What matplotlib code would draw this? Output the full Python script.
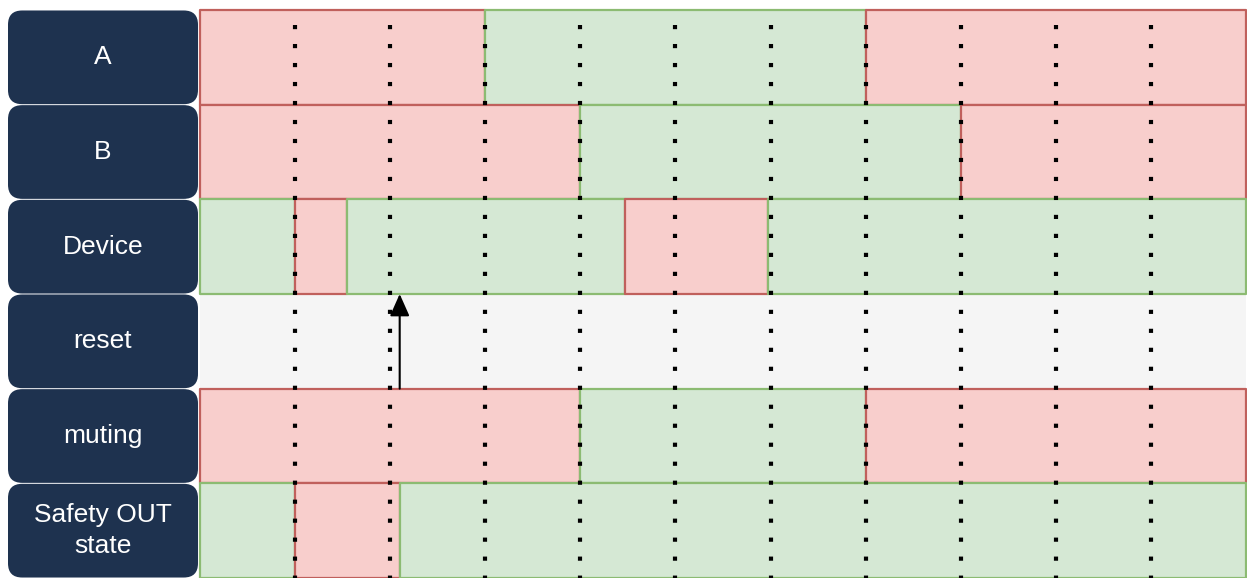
import matplotlib.pyplot as plt
from matplotlib.patches import FancyBboxPatch

# timing diagram data (time in grid steps, 0 = off/red, 1 = on/green)
signals = ['A', 'B', 'Device', 'reset', 'muting', 'Safety OUT\nstate']
t_end = 11
grid_ticks = [1, 2, 3, 4, 5, 6, 7, 8, 9, 10]

a_edges = [0, 3, 7, 11]
a_states = [0, 1, 0]
b_edges = [0, 4, 8, 11]
b_states = [0, 1, 0]
dev_edges = [0, 1, 1.55, 4.47, 5.97, 11]
dev_states = [1, 0, 1, 0, 1]
mut_edges = [0, 4, 7, 11]
mut_states = [0, 1, 0]
safe_edges = [0, 1, 2.1, 11]
safe_states = [1, 0, 1]
reset_pulse = 2.1

rows = {0: (a_edges, a_states), 1: (b_edges, b_states), 2: (dev_edges, dev_states),
        4: (mut_edges, mut_states), 5: (safe_edges, safe_states)}

fill = {0: '#f8cecc', 1: '#d5e8d4'}
edge = {0: '#c0605c', 1: '#8cbb72'}
navy = '#1e324f'

fig = plt.figure(figsize=(12.47, 5.78), dpi=100)
ax = fig.add_axes([0, 0, 1, 1])
ux = 1046 / 11
uy = 568 / 6
ax.set_xlim(-200 / ux, 1047 / ux)
ax.set_ylim(6.0, -10 / uy)
ax.axis('off')

# reset row background
ax.broken_barh([(0, t_end)], (3, 1), facecolors='#f5f5f5', edgecolors='none', zorder=1)

for r, (edges, states) in rows.items():
    spans = [(edges[i], edges[i + 1] - edges[i]) for i in range(len(states))]
    ax.broken_barh(spans, (r, 1), facecolors=[fill[s] for s in states],
                   edgecolors=[edge[s] for s in states], linewidth=1.6, zorder=2)

# dotted time grid
y0 = 15 / uy
for t in grid_ticks:
    ax.plot([t, t], [y0, 6.0], color='black', lw=3.0, solid_capstyle='butt',
            linestyle=(0, (1, 19 / 4.17 - 1)), dash_capstyle='butt', zorder=3)

# reset pulse arrow
ax.annotate('', xy=(reset_pulse, 3.0), xytext=(reset_pulse, 4.0),
            arrowprops=dict(arrowstyle='-|>,head_length=0.9,head_width=0.4',
                            color='black', lw=1.5, shrinkA=0, shrinkB=0,
                            mutation_scale=15), zorder=4)

# row labels
for i, name in enumerate(signals):
    box = FancyBboxPatch((-192 / ux, i + 0.005), 190 / ux, 0.99,
                         boxstyle='round,pad=0,rounding_size=0.15',
                         facecolor=navy, edgecolor='none', zorder=2)
    ax.add_patch(box)
    ax.text(-97 / ux, i + 0.5, name, color='white', ha='center', va='center',
            fontsize=19, family='Liberation Sans', linespacing=1.35, zorder=3)

fig.savefig('out.png', dpi=100)
